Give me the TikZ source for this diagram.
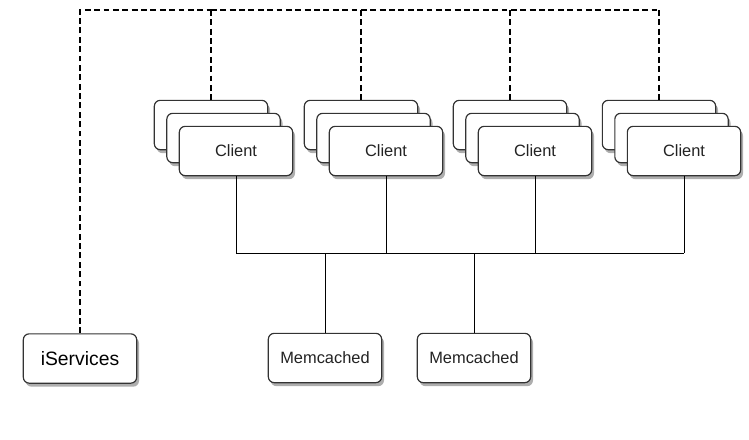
\documentclass[tikz,border=0pt]{standalone}
\usepackage{fontspec}
\setmainfont{Liberation Sans}
\definecolor{boxline}{HTML}{333333}
\definecolor{txtgray}{HTML}{222222}
\usetikzlibrary{positioning, shadows, calc}

\tikzset{
  box/.style={draw=boxline, line width=1pt, fill=white, rounded corners=5pt,
    minimum width=3.4cm, minimum height=1.48cm, inner sep=0pt,
    text=txtgray, font=\fontsize{14}{16}\selectfont,
    drop shadow={shadow xshift=2pt, shadow yshift=-3pt, opacity=0.45, fill=black!70}},
  link/.style={draw=black, line width=0.8pt},
  ctrl/.style={draw=black, line width=0.9pt, dash pattern=on 5pt off 3pt}
}

\begin{document}
\begin{tikzpicture}[x=0.03cm, y=-0.03cm]
        \useasboundingbox (0,0) rectangle (749,439);
        % Client stacks (back, middle, front)
        \foreach \i/\dx in {1/0, 2/150, 3/299, 4/448} {
          \node[box] (back\i) at (211+\dx,125) {};
          \node[box] (mid\i) at (223.5+\dx,138) {};
          \node[box] (client\i) at (236+\dx,151) {Client};
        }
        % Memcached servers and iServices
        \node[box] (mc1) at (325,358) {Memcached};
        \node[box] (mc2) at (474,358) {Memcached};
        \node[box, font=\fontsize{16.5}{18}\selectfont, text=black] (isvc) at (80,358.5) {iServices};
        % Dashed control lines
        \coordinate (top) at (0,10);
        \draw[ctrl, line width=1.4pt] (isvc.north) |- (back1.north |- top);
        \draw[ctrl] (back1.north |- top) -- (back4.north |- top);
        \foreach \i in {1,...,4}
          \draw[ctrl] (back\i.north |- top) -- (back\i.north);
        % Client bus to Memcached
        \coordinate (bus) at (0,253);
        \foreach \i in {1,...,4}
          \draw[link] (client\i.south) -- (client\i.south |- bus);
        \draw[link] (client1.south |- bus) -- (client4.south |- bus);
        \draw[link] (mc1.north) -- (mc1.north |- bus);
        \draw[link] (mc2.north) -- (mc2.north |- bus);
      \end{tikzpicture}
\end{document}
